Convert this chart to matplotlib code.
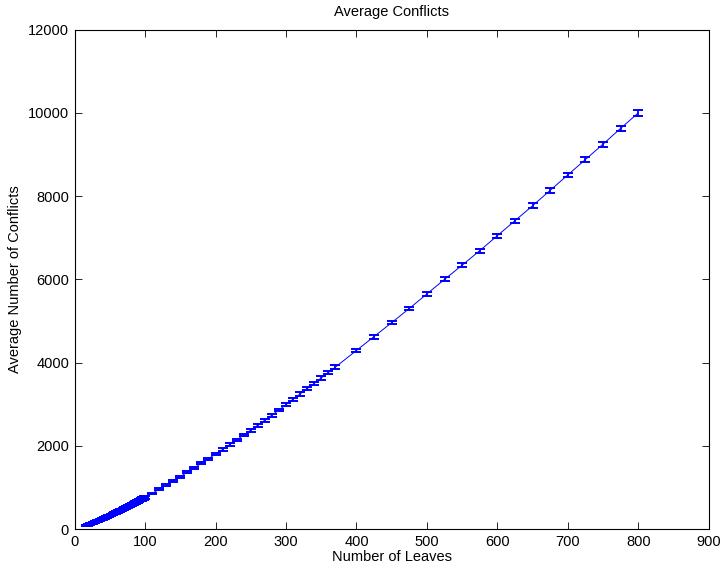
"""Average Conflicts: mean number of conflicts vs number of leaves, with error bars."""
import matplotlib
matplotlib.use("Agg")
import matplotlib.pyplot as plt

plt.rcParams["font.family"] = ["Liberation Sans", "DejaVu Sans"]
plt.rcParams["font.size"] = 10.5

# every tree size from 16 to 100 leaves
leaves_small = [16, 17, 18, 19, 20, 21, 22, 23, 24, 25, 26, 27, 28, 29, 30, 31, 32,
                33, 34, 35, 36, 37, 38, 39, 40, 41, 42, 43, 44, 45, 46, 47, 48, 49,
                50, 51, 52, 53, 54, 55, 56, 57, 58, 59, 60, 61, 62, 63, 64, 65, 66,
                67, 68, 69, 70, 71, 72, 73, 74, 75, 76, 77, 78, 79, 80, 81, 82, 83,
                84, 85, 86, 87, 88, 89, 90, 91, 92, 93, 94, 95, 96, 97, 98, 99, 100]
conf_small = [80, 86, 93, 99, 106, 112, 119, 125, 132, 139, 146, 153, 160, 167, 174,
              181, 188, 195, 203, 210, 218, 225, 233, 240, 248, 255, 263, 270, 278,
              286, 294, 302, 310, 318, 326, 334, 342, 350, 358, 366, 374, 382, 390,
              398, 407, 415, 424, 432, 441, 449, 457, 465, 474, 483, 492, 500, 509,
              517, 526, 535, 544, 552, 561, 570, 579, 588, 597, 606, 615, 624, 633,
              642, 651, 660, 669, 678, 687, 696, 705, 714, 724, 733, 742, 751, 760]
err_small = [14, 14, 14, 15, 15, 15, 15, 16, 16, 16, 16, 17, 17, 17, 17, 18, 18,
             18, 18, 19, 19, 19, 19, 20, 20, 20, 20, 21, 21, 21, 21, 22, 22, 22,
             22, 23, 23, 23, 23, 24, 24, 24, 24, 25, 25, 25, 25, 26, 26, 26, 26,
             27, 27, 27, 27, 28, 28, 28, 28, 29, 29, 29, 29, 30, 30, 30, 30, 31,
             31, 31, 31, 32, 32, 32, 32, 33, 33, 33, 33, 34, 34, 34, 34, 35, 35]

# step of 10 between 110 and 370
leaves_mid = [110, 120, 130, 140, 150, 160, 170, 180, 190, 200, 210, 220, 230, 240,
              250, 260, 270, 280, 290, 300, 310, 320, 330, 340, 350, 360, 370]
conf_mid = [855, 955, 1055, 1155, 1258, 1365, 1472, 1580, 1690, 1800, 1912, 2026,
            2142, 2258, 2376, 2495, 2616, 2738, 2860, 2990, 3118, 3245, 3370, 3500,
            3630, 3760, 3890]
err_mid = [22, 23, 24, 24, 25, 26, 27, 27, 28, 29, 30, 30, 31, 32, 33, 33, 34, 35,
           35, 36, 37, 37, 38, 39, 39, 40, 41]

# step of 25 between 400 and 800
leaves_big = [400, 425, 450, 475, 500, 525, 550, 575, 600, 625, 650, 675, 700, 725,
              750, 775, 800]
conf_big = [4290, 4620, 4960, 5300, 5650, 6000, 6340, 6690, 7050, 7410, 7770, 8140,
            8510, 8880, 9250, 9630, 10000]
err_big = [42, 43, 44, 45, 46, 47, 48, 50, 51, 52, 54, 55, 56, 58, 60, 62, 64]

leaves = leaves_small + leaves_mid + leaves_big
conflicts = conf_small + conf_mid + conf_big
errors = err_small + err_mid + err_big

fig = plt.figure(figsize=(7.21, 5.71), dpi=100)
ax = fig.add_axes([0.1035, 0.0735, 0.8795, 0.8745])

ax.errorbar(leaves, conflicts, yerr=errors, color="#0000ff", linewidth=0.7,
            elinewidth=1.3, capsize=3.8, capthick=1.4)

ax.set_xlim(0, 900)
ax.set_ylim(0, 12000)
ax.set_xticks(range(0, 901, 100))
ax.set_yticks(range(0, 12001, 2000))
ax.tick_params(direction="in", top=True, right=True, length=5, width=0.6,
               labelsize=10.5, pad=4)
for sp in ax.spines.values():
    sp.set_linewidth(0.8)

ax.set_xlabel("Number of Leaves", labelpad=1)
ax.set_ylabel("Average Number of Conflicts", labelpad=4)
ax.set_title("Average Conflicts", fontsize=10.5, pad=10)

fig.savefig("out.png", dpi=100)
